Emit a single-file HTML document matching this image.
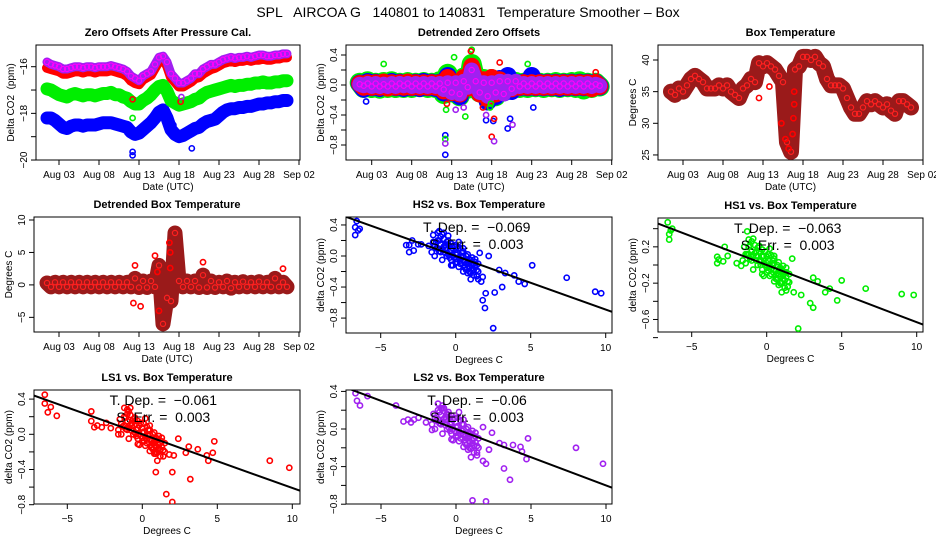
<!DOCTYPE html>
<html><head><meta charset="utf-8"><style>
body{margin:0;background:#fff}
svg{display:block;font-family:"Liberation Sans",sans-serif}
</style></head><body>
<svg id="c" width="936" height="540" viewBox="0 0 936 540" xmlns="http://www.w3.org/2000/svg">
<text x="468" y="17" font-size="14" text-anchor="middle" style="white-space:pre">SPL   AIRCOA G   140801 to 140831   Temperature Smoother – Box</text>
</svg>
<script>
// ---------- DATA ----------
const dateTickLabels = ["Aug 03","Aug 08","Aug 13","Aug 18","Aug 23","Aug 28","Sep 02"];
const dateTickDays = [3,8,13,18,23,28,33];
const dayStart = 1.5, dayStep = 0.5;
const zoPurple = [-15.8,-15.9,-15.95,-16.0,-16.1,-16.1,-16.05,-16.0,-16.0,-16.05,-16.0,-16.0,-16.05,-16.0,-16.0,-16.0,-15.95,-16.0,-16.05,-16.1,-16.2,-16.4,-16.5,-16.6,-16.4,-16.3,-16.2,-15.9,-15.6,-15.55,-15.8,-16.3,-16.5,-16.7,-16.7,-16.6,-16.5,-16.3,-16.3,-16.1,-16.0,-15.9,-15.9,-15.8,-15.7,-15.65,-15.6,-15.65,-15.6,-15.6,-15.55,-15.6,-15.55,-15.5,-15.5,-15.55,-15.55,-15.5,-15.5,-15.45,-15.45];
const zoRed = [-16.05,-16.1,-16.15,-16.2,-16.3,-16.3,-16.25,-16.2,-16.2,-16.25,-16.2,-16.2,-16.25,-16.2,-16.2,-16.2,-16.15,-16.2,-16.25,-16.3,-16.4,-16.6,-16.7,-16.75,-16.55,-16.45,-16.35,-16.05,-15.75,-15.7,-15.95,-16.45,-16.65,-16.85,-16.85,-16.75,-16.65,-16.5,-16.45,-16.3,-16.2,-16.1,-16.05,-15.95,-15.85,-15.8,-15.75,-15.8,-15.75,-15.75,-15.7,-15.75,-15.7,-15.7,-15.65,-15.7,-15.7,-15.65,-15.65,-15.6,-15.6];
const zoGreen = [-16.95,-17.0,-17.1,-17.2,-17.25,-17.3,-17.2,-17.15,-17.2,-17.25,-17.2,-17.2,-17.25,-17.2,-17.15,-17.15,-17.1,-17.2,-17.2,-17.3,-17.35,-17.5,-17.6,-17.6,-17.45,-17.35,-17.2,-17.0,-16.85,-16.8,-17.05,-17.45,-17.55,-17.65,-17.6,-17.55,-17.5,-17.4,-17.35,-17.2,-17.1,-17.05,-17.0,-16.95,-16.9,-16.85,-16.8,-16.85,-16.8,-16.8,-16.75,-16.75,-16.7,-16.7,-16.65,-16.7,-16.7,-16.65,-16.65,-16.6,-16.6];
const zoBlue = [-18.2,-18.2,-18.3,-18.45,-18.6,-18.65,-18.55,-18.5,-18.5,-18.55,-18.5,-18.5,-18.5,-18.45,-18.4,-18.4,-18.4,-18.45,-18.5,-18.55,-18.6,-18.8,-18.9,-18.85,-18.7,-18.55,-18.4,-18.2,-17.95,-17.85,-18.2,-18.7,-18.9,-19.0,-18.95,-18.85,-18.75,-18.65,-18.6,-18.45,-18.35,-18.3,-18.25,-18.1,-17.95,-17.85,-17.8,-17.8,-17.75,-17.75,-17.7,-17.7,-17.65,-17.6,-17.6,-17.55,-17.55,-17.5,-17.5,-17.45,-17.45];
const zoOutDays = [12.2,12.2,12.2,12.2,18.2,18.3,17.3,19.6];
const zoOutVals = [-19.8,-19.65,-17.4,-18.2,-17.5,-17.3,-18.5,-19.5];
const zoOutSeries = ["blue","blue","red","green","red","purple","blue","blue"];
const dzPurple = [0.01,-0.01,0.02,-0.02,0.02,-0.02,0.01,-0.02,0.02,-0.02,0.02,-0.01,0.02,-0.02,0.02,-0.02,0.02,-0.02,0.02,-0.02,0.02,-0.06,0.03,-0.1,0.03,-0.12,0.05,-0.03,0.2,0.05,-0.1,0.03,-0.15,0.03,-0.1,0.05,-0.12,0.05,-0.05,0.05,-0.02,0.02,-0.02,0.02,-0.02,0.02,-0.02,0.02,-0.02,0.02,-0.02,0.02,-0.02,0.02,-0.02,0.02,-0.02,0.02,-0.02,0.01,-0.01];
const dzRed = [0.02,-0.03,0.03,-0.03,0.03,-0.03,0.04,-0.04,0.03,-0.03,0.03,-0.03,0.04,-0.03,0.03,-0.03,0.03,-0.03,0.03,-0.03,0.03,-0.08,0.1,-0.1,0.04,-0.12,0.1,-0.04,0.25,0.06,-0.12,0.07,-0.18,0.1,-0.12,0.07,-0.08,0.03,-0.05,0.03,-0.03,0.03,-0.03,0.03,-0.03,0.03,-0.03,0.03,-0.03,0.03,-0.03,0.03,-0.03,0.03,-0.03,0.03,-0.03,0.03,-0.05,0.03,-0.02];
const dzGreen = [0.03,-0.04,0.05,-0.04,0.03,-0.05,0.04,-0.04,0.05,-0.04,0.03,-0.04,0.04,-0.04,0.03,-0.03,0.04,-0.04,0.03,-0.04,0.05,-0.12,0.15,-0.1,0.05,-0.15,0.1,-0.05,0.28,0.05,-0.1,0.08,-0.18,0.08,-0.15,0.05,-0.08,0.04,-0.06,0.04,-0.04,0.03,-0.04,0.04,-0.03,0.03,-0.04,0.03,-0.03,0.04,-0.04,0.03,-0.03,0.04,-0.04,0.05,-0.06,0.03,-0.04,0.03,-0.02];
const dzBlue = [0.02,-0.05,0.04,-0.03,0.03,-0.04,0.03,-0.03,0.04,-0.03,0.03,-0.04,0.03,-0.03,0.03,-0.04,0.04,-0.03,0.03,-0.04,0.03,-0.1,0.12,-0.1,0.03,-0.15,0.08,-0.03,0.2,0.03,-0.1,0.05,-0.22,0.08,-0.15,0.08,-0.1,0.12,-0.08,0.03,-0.03,0.03,-0.03,0.12,-0.03,0.03,-0.03,0.03,-0.03,0.03,-0.04,0.03,-0.03,0.03,-0.03,0.03,-0.03,0.03,-0.03,0.03,-0.02];
const dzOutDays = [12.2,12.2,2.3,18.2,17.3,20.0,23.2,12.2,13.3,15.5,4.5,22.5,17.8,14.7,12.3,18.0,18.3,19.0,31.0,15.4,12.2,18.3,20.6,17.3,13.5,14.5,16.9,17.9,20.3,12.4];
const dzOutVals = [-0.93,-0.67,-0.22,-0.48,-0.47,-0.58,-0.3,-0.72,0.37,0.47,0.28,0.28,-0.3,-0.42,-0.33,-0.69,-0.45,0.3,0.17,0.45,-0.78,-0.75,-0.53,-0.4,-0.33,-0.3,-0.3,-0.25,-0.45,-0.25];
const dzOutSeries = ["blue","blue","blue","blue","blue","blue","blue","green","green","green","green","green","green","green","green","red","red","red","red","red","purple","purple","purple","purple","purple","purple","red","green","blue","red"];
const boxT = [35,34.5,35.5,35,36,37,37.5,37,36.5,35.5,35.5,35.5,36,35.5,36,35,34.5,34,35.5,36,37,36.5,39.5,39,39.5,39,38.5,37.5,36.5,27,25.5,38.5,39,40.5,40.5,40,40.5,39.5,39,37,36,36,36,35.5,34,32.5,31.5,31.5,32.5,33.5,33,33.5,33,32.5,33,32,31.5,33.5,33.5,33,32.5];
const boxOutDays = [12.5,13.8,15.3,16.7,16.8,16.9,16.9,15.8,16.2];
const boxOutVals = [34,35.8,30,28.3,30.8,33,35,27.5,26];
const dBoxT = [0.3,-0.3,0.4,-0.3,0.4,-0.3,0.4,-0.3,0.4,-0.3,0.4,-0.3,0.4,-0.3,0.4,-0.3,0.4,-0.3,0.4,-0.3,0.4,-0.3,1.0,-0.4,0.6,-0.4,0.6,-0.3,3.0,-6.0,-2.0,-2.5,8.0,0.6,-0.3,0.6,-0.3,0.6,-0.4,1.5,-0.4,0.6,-0.4,0.4,-0.3,0.6,-0.5,0.4,-0.3,0.5,-0.3,0.4,-0.3,0.5,-0.3,0.4,-0.3,1.0,-0.3,0.4,-0.3];
const dBoxOutDays = [12.3,13.2,15.5,16.9,16.9,16.8,15.0,15.3,12.5,21.0,31.0];
const dBoxOutVals = [-2.8,-3.3,-4.0,5.0,2.6,6.5,4.5,2.0,3.0,3.5,2.5];
const hs2X = [-6.6,-6.7,-6.4,-6.5,-6.7,-3.3,-3.1,-3.1,-2.8,-2.9,-2.5,-2.3,5.1,7.4,9.3,9.7,4.6,4.2,3.9,3.1,2.6,2.0,1.8,1.95,2.5,1.6,2.2,2.9,3.3,1.5,1.8,1.7,-1.5,-1.1,-0.8,-0.5,-1.8,-1.3,-1.4,-1.2,-1.0,-1.0,-0.8,-0.7,-0.6,-0.5,-0.4,-0.3,-0.2,0,0,0.1,0.2,0.3,0.4,0.5,0.6,0.7,0.8,0.9,1.0,1.1,1.2,1.3,1.4,-1.6,-0.9,-0.2,0.5,1.0,-1.2,0.2,0.8,1.5];
const hs2Y = [0.45,0.37,0.35,0.33,0.27,0.14,0.14,0.05,0.07,0.2,0.15,0.15,-0.12,-0.28,-0.46,-0.48,-0.36,-0.33,-0.25,-0.4,-0.47,-0.48,-0.57,-0.67,-0.93,0.04,0.0,-0.18,-0.22,-0.3,-0.27,-0.33,0.27,0.32,0.3,0.26,0.13,0.18,0.12,0.2,0.15,0.05,0.22,0.1,0.0,0.15,0.05,-0.05,0.1,0.02,-0.08,0.12,-0.02,-0.1,0.05,-0.05,-0.15,0.0,-0.1,-0.2,-0.05,-0.15,-0.25,-0.08,-0.18,0.05,-0.05,-0.12,0.1,-0.3,0.3,0.18,-0.22,-0.1];
const hs1X = [-6.6,-6.4,-6.3,-6.5,-6.5,-1.3,-3.3,-3.2,-3.3,-2.8,-2.6,-2.9,-2.0,-1.7,5.0,6.6,9.0,9.8,4.7,4.2,3.9,3.4,3.1,2.9,3.1,2.1,2.3,1.8,1.7,1.3,-1.4,-1.2,-1.0,-1.0,-0.8,-0.7,-0.6,-0.5,-0.4,-0.3,-0.2,0,0,0.1,0.2,0.3,0.4,0.5,0.6,0.7,0.8,0.9,1.0,1.1,1.2,1.3,1.4,-1.6,-0.9,-0.2,0.5,1.0,-1.2,0.2,0.8,1.5];
const hs1Y = [0.47,0.38,0.4,0.34,0.28,0.37,0.09,0.06,0.02,0.2,0.1,0.04,0.02,-0.01,-0.17,-0.26,-0.32,-0.33,-0.39,-0.26,-0.3,-0.18,-0.14,-0.42,-0.47,-0.7,-0.33,-0.3,0.07,-0.28,0.12,0.2,0.15,0.05,0.22,0.1,0.0,0.15,0.05,-0.05,0.1,0.02,-0.08,0.12,-0.02,-0.1,0.05,-0.05,-0.15,0.0,-0.1,-0.2,-0.05,-0.15,-0.25,-0.08,-0.18,0.05,-0.05,-0.12,0.1,-0.3,0.28,0.18,-0.22,-0.1];
const ls1X = [-6.5,-6.5,-6.3,-6.1,-5.7,-3.4,-3.4,-3.2,-3.0,-2.7,-2.4,-2.1,-1.6,-1.2,-1.0,-0.8,4.8,8.5,9.8,4.7,4.4,4.3,3.7,2.9,3.1,3.2,2.0,0.9,1.6,2.0,2.1,1.8,2.4,0.9,-1.4,-1.2,-1.0,-1.0,-0.8,-0.7,-0.6,-0.5,-0.4,-0.3,-0.2,0,0,0.1,0.2,0.3,0.4,0.5,0.6,0.7,0.8,0.9,1.0,1.1,1.2,1.3,1.4,-1.6,-0.9,-0.2,0.5,1.0,0.2,0.8,1.5];
const ls1Y = [0.45,0.35,0.25,0.31,0.21,0.26,0.15,0.08,0.1,0.08,0.13,0.07,0.0,0.3,0.28,0.3,-0.08,-0.3,-0.38,-0.21,-0.3,-0.24,-0.17,-0.21,-0.14,-0.51,-0.43,-0.43,-0.68,-0.77,-0.24,-0.23,-0.05,-0.22,0.12,0.2,0.15,0.05,0.22,0.1,0.0,0.15,0.05,-0.05,0.1,0.02,-0.08,0.12,-0.02,-0.1,0.05,-0.05,-0.15,0.0,-0.1,-0.2,-0.05,-0.15,-0.25,-0.08,-0.18,0.05,-0.05,-0.12,0.1,-0.3,0.18,-0.22,-0.1];
const ls2X = [-6.7,-6.6,-6.4,-5.9,-4.0,-3.5,-3.2,-3.0,-2.8,-2.5,-2.0,-1.6,-1.2,-0.9,4.8,8.0,9.8,4.7,4.4,4.3,3.8,3.2,3.6,2.0,1.8,1.1,2.0,2.2,1.4,1.8,2.4,2.9,3.2,-1.4,-1.2,-1.0,-1.0,-0.8,-0.7,-0.6,-0.5,-0.4,-0.3,-0.2,0,0,0.1,0.2,0.3,0.4,0.5,0.6,0.7,0.8,0.9,1.0,1.1,1.2,1.3,1.4,-1.6,-0.9,-0.2,0.5,1.0,0.2,0.8,1.5];
const ls2Y = [0.38,0.3,0.25,0.35,0.25,0.08,0.1,0.07,0.1,0.12,0.07,-0.01,0.27,0.22,-0.1,-0.2,-0.37,-0.32,-0.24,-0.19,-0.17,-0.42,-0.54,-0.37,-0.34,-0.76,-0.77,-0.22,-0.28,0.02,-0.04,-0.15,-0.17,0.12,0.2,0.15,0.05,0.22,0.1,0.0,0.15,0.05,-0.05,0.1,0.02,-0.08,0.12,-0.02,-0.1,0.05,-0.05,-0.15,0.0,-0.1,-0.2,-0.05,-0.15,-0.25,-0.08,-0.18,0.05,-0.05,-0.12,0.1,-0.3,0.18,-0.22,-0.1];
// dense core of each scatter (same box-temperature values for all sensors)
const coreTempX = [-1.5,-1.3,-1.1,-0.9,-0.7,-0.5,-0.3,-0.1,0.1,0.3,0.5,0.7,0.9,1.1,1.3,1.5,-1.4,-1.2,-1.0,-0.8,-0.6,-0.4,-0.2,0.0,0.2,0.4,0.6,0.8,1.0,1.2,1.4,-0.9,-0.5,-0.1,0.3,0.7,1.1,-0.3,0.5,0.9,-0.7,-0.3,0.1,0.5,0.9,1.3,-1.1,0.0,0.6,1.2];
const coreHS2 = [0.18,0.1,0.2,0.08,0.14,0.02,0.08,-0.02,0.04,-0.06,0.0,-0.1,-0.04,-0.12,-0.14,-0.2,0.0,0.1,0.25,0.12,0.18,-0.02,0.0,0.08,-0.14,-0.02,-0.08,0.02,-0.22,-0.1,-0.26,0.28,0.2,0.14,0.1,-0.18,-0.02,-0.12,-0.2,-0.14,0.04,0.16,-0.08,0.06,-0.08,-0.04,0.06,-0.04,-0.12,-0.18];
const coreHS1 = [0.2,0.12,0.22,0.1,0.15,0.04,0.09,0.0,0.05,-0.05,0.02,-0.09,-0.03,-0.11,-0.13,-0.19,0.02,0.12,0.26,0.13,0.19,0.0,0.02,0.09,-0.12,0.0,-0.07,0.03,-0.2,-0.08,-0.24,0.29,0.21,0.15,0.11,-0.16,-0.01,-0.1,-0.18,-0.13,0.05,0.17,-0.06,0.07,-0.07,-0.03,0.07,-0.03,-0.11,-0.17];
const coreLS1 = [0.17,0.09,0.19,0.07,0.13,0.02,0.07,-0.02,0.03,-0.06,0.0,-0.1,-0.04,-0.12,-0.14,-0.2,0.0,0.1,0.23,0.11,0.17,-0.02,0.0,0.07,-0.13,-0.02,-0.08,0.02,-0.21,-0.1,-0.25,0.26,0.19,0.13,0.09,-0.17,-0.02,-0.11,-0.19,-0.13,0.04,0.15,-0.07,0.05,-0.08,-0.04,0.06,-0.04,-0.12,-0.18];
const coreLS2 = [0.16,0.09,0.18,0.07,0.13,0.02,0.07,-0.02,0.03,-0.06,0.0,-0.1,-0.04,-0.12,-0.14,-0.2,0.0,0.1,0.22,0.11,0.16,-0.02,0.0,0.07,-0.13,-0.02,-0.08,0.02,-0.21,-0.1,-0.25,0.25,0.18,0.12,0.09,-0.17,-0.02,-0.11,-0.19,-0.13,0.04,0.14,-0.07,0.05,-0.08,-0.04,0.06,-0.04,-0.12,-0.18];
const slopes = [-0.069,-0.063,-0.061,-0.06];
const slopeLabels = ["T. Dep. =  \u22120.069","T. Dep. =  \u22120.063","T. Dep. =  \u22120.061","T. Dep. =  \u22120.06"];
const errLabels = ["S. Err. =  0.003","S. Err. =  0.003","S. Err. =  0.003","S. Err. =  0.003"];

// ---------- DRAWING ----------
const NS = "http://www.w3.org/2000/svg";
const svg = document.getElementById("c");
const COL = {blue:"#0000ff",red:"#ff0000",green:"#00ee00",purple:"#a020f0"};
function mk(tag, attrs, parent){const e=document.createElementNS(NS,tag);for(const k in attrs)e.setAttribute(k,attrs[k]);(parent||svg).appendChild(e);return e;}
function txt(x,y,s,size,anchor,parent,rot,bold){const t=mk("text",{x:x,y:y,"font-size":size,"text-anchor":anchor||"middle"},parent);t.setAttribute("style","white-space:pre");if(rot)t.setAttribute("transform","rotate(-90 "+x+" "+y+")");if(bold)t.setAttribute("font-weight","bold");t.textContent=s;return t;}

function panel(name, box, title, xlab, ylab, xs, ys, xticks, xtickLabels, yticks, ylabelVals, ylabelFmt){
  const g = mk("g",{});
  
  
  const t = txt((box.x0+box.x1)/2, box.y0-9, title, 11, "middle", g, false, true);
  
  
  const r = mk("rect",{x:box.x0,y:box.y0,width:box.x1-box.x0,height:box.y1-box.y0,fill:"none",stroke:"#000","stroke-width":1},g);
  
  
  const xa = mk("g",{},g);
  
  
  xticks.forEach((v,i)=>{const x=xs(v); if(x<box.x0-2||x>box.x1+2)return;
    mk("line",{x1:x,x2:x,y1:box.y1,y2:box.y1+5,stroke:"#000"},xa);
    txt(x, box.y1+18, xtickLabels[i], 10, "middle", xa);});
  const xt = txt((box.x0+box.x1)/2, box.y1+30, xlab, 10, "middle", g);
  
  
  const ya = mk("g",{},g);
  
  
  yticks.forEach(v=>{const y=ys(v);
    mk("line",{x1:box.x0-5,x2:box.x0,y1:y,y2:y,stroke:"#000"},ya);});
  ylabelVals.forEach(v=>{const y=ys(v); txt(box.x0-9, y, ylabelFmt(v), 10, "middle", ya, true);});
  const yt = txt(box.x0-22, (box.y0+box.y1)/2, ylab, 10, "middle", g, true);
  
  
  const clip = "clip-"+name;
  const cp = mk("clipPath",{id:clip},g); mk("rect",{x:box.x0,y:box.y0,width:box.x1-box.x0,height:box.y1-box.y0},cp);
  const plot = mk("g",{"clip-path":"url(#"+clip+")"},g);
  return plot;
}
function band(plot, name, vals, xs, ys, color, w, dot){
  const s = mk("g",{},plot);
  
  
  const pts = vals.map((v,i)=>xs(dayStart+i*dayStep)+","+ys(v)).join(" ");
  mk("polyline",{points:pts,fill:"none",stroke:color,"stroke-width":w,"stroke-linejoin":"round","stroke-linecap":"round"},s);
  vals.forEach((v,i)=>{mk("circle",{cx:xs(dayStart+i*dayStep),cy:ys(v),r:2.6,fill:"none",stroke:dot||color,"stroke-width":1.2},s);});
  return s;
}
function pts(plot, name, xv, yv, xs, ys, color){
  const s = mk("g",{},plot);
  
  
  xv.forEach((x,i)=>{mk("circle",{cx:xs(x),cy:ys(yv[i]),r:2.6,fill:"none",stroke:color,"stroke-width":1.6},s);});
}
const fmt0 = v=>String(v).replace("-","\u2212");
const fmt1 = v=>v.toFixed(1).replace("-","\u2212");

// Panel 1
{const box={x0:36,x1:300,y0:45,y1:160};
 const xs=d=>43+(d-1)*8, ys=v=>66.7+(-16-v)*23.33;
 const p=panel("zero-offsets-panel",box,"Zero Offsets After Pressure Cal.","Date (UTC)","Delta CO2  (ppm)",xs,ys,dateTickDays,dateTickLabels,[-20,-19,-18,-17,-16],[-20,-18,-16],fmt0);
 band(p,"series-blue",zoBlue,xs,ys,COL.blue,13);
 band(p,"series-green",zoGreen,xs,ys,COL.green,13);
 band(p,"series-red",zoRed,xs,ys,COL.red,10);
 band(p,"series-purple",zoPurple,xs,ys,COL.purple,9,"#ff00ff");
 const o=mk("g",{},p);
 
 
 zoOutDays.forEach((d,i)=>mk("circle",{cx:xs(d),cy:ys(zoOutVals[i]),r:2.6,fill:"none",stroke:COL[zoOutSeries[i]],"stroke-width":1.6},o));}
// Panel 2
{const box={x0:346,x1:612,y0:45,y1:160};
 const xs=d=>355.7+(d-1)*8, ys=v=>85-v*75;
 const p=panel("detrended-offsets-panel",box,"Detrended Zero Offsets","Date (UTC)","Delta CO2  (ppm)",xs,ys,dateTickDays,dateTickLabels,[-0.8,-0.6,-0.4,-0.2,0,0.2,0.4],[-0.8,-0.4,0,0.4],fmt1);
 band(p,"series-green",dzGreen,xs,ys,COL.green,20);
 band(p,"series-blue",dzBlue,xs,ys,COL.blue,18);
 band(p,"series-red",dzRed,xs,ys,COL.red,17);
 band(p,"series-purple",dzPurple,xs,ys,COL.purple,15,"#ff00ff");
 const o=mk("g",{},p);
 
 
 dzOutDays.forEach((d,i)=>mk("circle",{cx:xs(d),cy:ys(dzOutVals[i]),r:2.6,fill:"none",stroke:COL[dzOutSeries[i]],"stroke-width":1.6},o));}
// Panel 3
{const box={x0:658,x1:923,y0:45,y1:160};
 const xs=d=>667+(d-1)*8, ys=v=>60+(40-v)*6.33;
 const p=panel("box-temperature-panel",box,"Box Temperature","Date (UTC)","Degrees C",xs,ys,dateTickDays,dateTickLabels,[25,30,35,40],[25,30,35,40],fmt0);
 band(p,"series-box-temp",boxT,xs,ys,"#9a1a1a",16,"#ff2020");
 pts(p,"outlier-points",boxOutDays,boxOutVals,xs,ys,COL.red);}
// Panel 4
{const box={x0:34,x1:300,y0:217,y1:332};
 const xs=d=>43+(d-1)*8, ys=v=>284.9-v*6.49;
 const p=panel("detrended-box-temp-panel",box,"Detrended Box Temperature","Date (UTC)","Degrees C",xs,ys,dateTickDays,dateTickLabels,[-5,0,5,10],[-5,0,5,10],fmt0);
 band(p,"series-detrended-temp",dBoxT,xs,ys,"#9a1a1a",15,"#ff2020");
 pts(p,"outlier-points",dBoxOutDays,dBoxOutVals,xs,ys,COL.red);}
// Scatter panels
function scatter(name,box,title,x0px,y0px,ppm,X,Y,CX,CY,color,k,ylabs){
  const xs=v=>x0px+v*15, ys=v=>y0px-v*ppm;
  const yt=[];for(let v=-0.8;v<=0.41;v+=0.2)yt.push(Math.round(v*10)/10);
  const p=panel(name,box,title,"Degrees C","delta CO2 (ppm)",xs,ys,[-10,-5,0,5,10],["\u221210","\u22125","0","5","10"],yt,ylabs,fmt1);
  pts(p,"scatter-core-points",CX,CY,xs,ys,color);
  pts(p,"scatter-points",X,Y,xs,ys,color);
  const l=mk("line",{x1:xs(-8),y1:ys(-8*slopes[k]),x2:xs(11),y2:ys(11*slopes[k]),stroke:"#000","stroke-width":2},p);
  
  
  const g=p.parentNode;
  const cx=xs(1.4);
  const a=txt(cx,box.y0+15,slopeLabels[k],14,"middle",g);
  
  
  const b=txt(cx,box.y0+32,errLabels[k],14,"middle",g);
  
  
}
scatter("hs2-scatter-panel",{x0:346,x1:612,y0:217,y1:333},"HS2 vs. Box Temperature",455.7,256,77.6,hs2X,hs2Y,coreTempX,coreHS2,COL.blue,0,[-0.8,-0.4,0,0.4]);
scatter("hs1-scatter-panel",{x0:658,x1:923,y0:218,y1:332},"HS1 vs. Box Temperature",766.7,265,90.8,hs1X,hs1Y,coreTempX,coreHS1,COL.green,1,[-0.6,-0.2,0.2]);
scatter("ls1-scatter-panel",{x0:34,x1:300,y0:390,y1:504},"LS1 vs. Box Temperature",142.3,434.3,88,ls1X,ls1Y,coreTempX,coreLS1,COL.red,2,[-0.8,-0.4,0,0.4]);
scatter("ls2-scatter-panel",{x0:346,x1:612,y0:390,y1:504},"LS2 vs. Box Temperature",456,429,94,ls2X,ls2Y,coreTempX,coreLS2,COL.purple,3,[-0.8,-0.4,0,0.4]);
</script>
</body></html>
